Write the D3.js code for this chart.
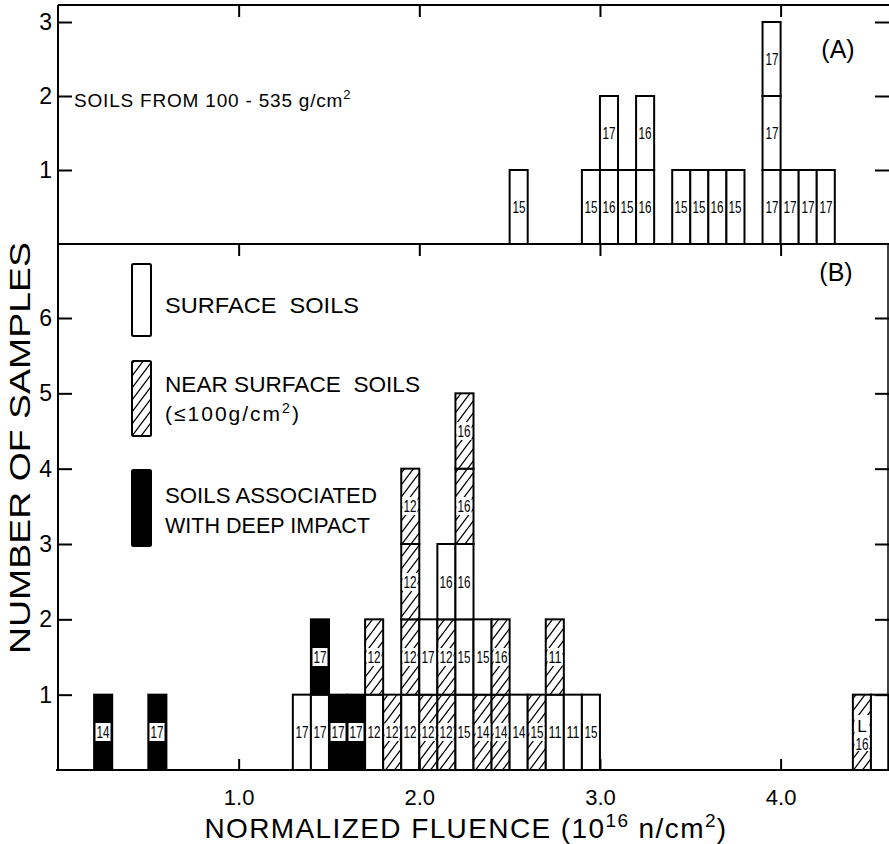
<!DOCTYPE html>
<html><head><meta charset="utf-8">
<script src="https://cdn.jsdelivr.net/npm/d3@7"></script>
<style>
html,body{margin:0;padding:0;background:#fff;}
svg{display:block;font-family:"Liberation Sans",Arial,sans-serif;}
text{fill:#000;}
</style></head><body>
<svg id="chart" width="889" height="844"></svg>
<script>
// Histogram bins: lower edge of each 0.1-wide fluence bin (10^16 n/cm^2)
// Panel A: soils from 100-535 g/cm^2 (all drawn as open bars)
const binsA   = [2.5, 2.9, 3.0, 3.1, 3.2, 3.4, 3.5, 3.6, 3.7, 3.9, 4.0, 4.1, 4.2];
// mission number of each sample in the stack, bottom to top
const labelsA = [["15"], ["15"], ["16","17"], ["15"], ["16","16"], ["15"], ["15"], ["16"], ["15"], ["17","17","17"], ["17"], ["17"], ["17"]];

// Panel B: S = surface, N = near surface, D = deep impact
const binsB   = [0.2, 0.5, 1.3, 1.4, 1.5, 1.6, 1.7, 1.8, 1.9, 2.0, 2.1, 2.2, 2.3, 2.4, 2.5, 2.6, 2.7, 2.8, 2.9, 4.4, 4.5];
const typesB  = [["D"],["D"],["S"],["S","D"],["D"],["D"],["S","N"],["N"],["S","N","N","N"],["N","S"],["N","N","S"],
                 ["S","S","S","N","N"],["N","S"],["N","N"],["S"],["N"],["S","N"],["S"],["S"],["N"],["S"]];
const labelsB = [["14"],["17"],["17"],["17","17"],["17"],["17"],["12","12"],["12"],["12","12","12","12"],["12","17"],["12","12","16"],
                 ["15","15","16","16","16"],["14","15"],["14","16"],["14"],["15"],["11","11"],["11"],["15"],["L|16"],[""]];

const yTicksA = [1, 2, 3];
const yTicksB = [1, 2, 3, 4, 5, 6];
const xTicks  = [1, 2, 3, 4];

const legendTypes = ["S", "N", "D"];
const legendLines = [["SURFACE  SOILS"], ["NEAR SURFACE  SOILS", "(≤100g/cm²)"], ["SOILS ASSOCIATED", "WITH DEEP IMPACT"]];

const svg = d3.select("#chart");
const defs = svg.append("defs");

// diagonal hatching for near-surface soils
const pat = defs.append("pattern").attr("id", "hatch")
  .attr("patternUnits", "userSpaceOnUse").attr("width", 9).attr("height", 12);
pat.append("rect").attr("width", 9).attr("height", 12).attr("fill", "#fff");
pat.append("path").attr("d", "M-1,13.33 L10,-1.33 M-10,13.33 L1,-1.33 M8,13.33 L19,-1.33")
  .attr("stroke", "#000").attr("stroke-width", 1.3).attr("fill", "none");

const fillOf = t => t === "D" ? "#000" : (t === "N" ? "url(#hatch)" : "#fff");

const x  = d3.scaleLinear().domain([0, 4.6]).range([58, 889]);
const yA = d3.scaleLinear().domain([0, 3]).range([244, 22]);
const yB = d3.scaleLinear().domain([0, 6]).range([770, 318]);
const binW = 0.1;

function drawStacks(cls, bins, types, labels, y) {
  const segs = [];
  bins.forEach((b, i) => labels[i].forEach((lab, k) => segs.push({ b, k, lab, t: types ? types[i][k] : "S" })));
  const g = svg.append("g").attr("class", cls);
  g.selectAll("rect.seg").data(segs).join("rect").attr("class", "seg")
    .attr("x", d => x(d.b)).attr("width", d => x(d.b + binW) - x(d.b))
    .attr("y", d => y(d.k + 1)).attr("height", d => y(d.k) - y(d.k + 1))
    .attr("fill", d => fillOf(d.t)).attr("stroke", "#000").attr("stroke-width", 2);
  const lg = g.selectAll("g.lab").data(segs.filter(d => d.lab)).join("g").attr("class", "lab")
    .attr("transform", d => `translate(${Math.round(x(d.b + binW / 2))},${Math.round(y(d.k + 0.5))})`);
  lg.filter(d => d.t !== "S").append("rect")
    .attr("x", -7.5).attr("y", d => d.lab.includes("|") ? -17 : -9)
    .attr("width", 15).attr("height", d => d.lab.includes("|") ? 36 : 18).attr("fill", "#fff");
  lg.each(function (d) {
    const parts = d.lab.split("|");
    parts.forEach((p, j) => {
      d3.select(this).append("text")
        .attr("y", parts.length > 1 ? (j === 0 ? -6 : 12) : 0)
        .attr("dy", "0.36em").attr("text-anchor", "middle")
        .attr("font-size", 17).attr("textLength", p.length > 1 ? 13 : null)
        .attr("lengthAdjust", "spacingAndGlyphs").text(p);
    });
  });
}

drawStacks("panelA", binsA, null, labelsA, yA);
drawStacks("panelB", binsB, typesB, labelsB, yB);

// frame lines
const frame = svg.append("g").attr("stroke", "#000").attr("stroke-width", 2).attr("fill", "none");
frame.append("line").attr("x1", 58).attr("x2", 58).attr("y1", 5).attr("y2", 770);
frame.append("line").attr("x1", 58).attr("x2", 889).attr("y1", 5).attr("y2", 5);
frame.append("line").attr("x1", 58).attr("x2", 889).attr("y1", 244).attr("y2", 244);
frame.append("line").attr("x1", 56).attr("x2", 889).attr("y1", 770).attr("y2", 770);
frame.append("line").attr("x1", 888).attr("x2", 888).attr("y1", 244).attr("y2", 770).attr("stroke-width", 1.5);

function styleAxis(g, fs) {
  g.select(".domain").remove();
  g.selectAll("line").attr("stroke", "#000").attr("stroke-width", 2);
  g.selectAll("text").attr("font-size", fs).attr("fill", "#000").attr("font-family", "Liberation Sans, Arial, sans-serif");
}

// left axes (ticks point inward)
svg.append("g").attr("transform", "translate(58,0)")
  .call(d3.axisLeft(yA).tickValues(yTicksA).tickSize(-14).tickPadding(6).tickFormat(d3.format("d")))
  .call(g => styleAxis(g, 23));
svg.append("g").attr("transform", "translate(58,0)")
  .call(d3.axisLeft(yB).tickValues(yTicksB).tickSize(-14).tickPadding(6).tickFormat(d3.format("d")))
  .call(g => styleAxis(g, 23));
// right-hand inward ticks
svg.append("g").attr("transform", "translate(889,0)")
  .call(d3.axisRight(yA).tickValues(yTicksA).tickSize(-14).tickFormat(""))
  .call(g => styleAxis(g, 0));
svg.append("g").attr("transform", "translate(889,0)")
  .call(d3.axisRight(yB).tickValues(yTicksB).tickSize(-14).tickFormat(""))
  .call(g => styleAxis(g, 0));

// bottom axis with labels, ticks upward
svg.append("g").attr("transform", "translate(0,770)")
  .call(d3.axisBottom(x).tickValues(xTicks).tickSize(-11).tickPadding(19).tickFormat(d3.format(".1f")))
  .call(g => styleAxis(g, 22));
// ticks hanging from the panel divider and the top edge
[5, 244].forEach(yy => {
  svg.append("g").attr("transform", `translate(0,${yy})`)
    .call(d3.axisBottom(x).tickValues(xTicks).tickSize(12).tickFormat(""))
    .call(g => styleAxis(g, 0));
});

// axis titles
svg.append("text").attr("transform", "translate(30,448) rotate(-90)")
  .attr("text-anchor", "middle").attr("font-size", 29)
  .attr("textLength", 412).attr("lengthAdjust", "spacingAndGlyphs")
  .text("NUMBER OF SAMPLES");

const xt = svg.append("text").attr("x", 466).attr("y", 838).attr("text-anchor", "middle")
  .attr("font-size", 28).attr("letter-spacing", 1.4);
xt.append("tspan").text("NORMALIZED FLUENCE (10");
xt.append("tspan").attr("dy", -11).attr("font-size", 19).text("16");
xt.append("tspan").attr("dy", 11).text(" n/cm");
xt.append("tspan").attr("dy", -11).attr("font-size", 19).text("2");
xt.append("tspan").attr("dy", 11).text(")");

// panel annotations
const ta = svg.append("text").attr("x", 74).attr("y", 107).attr("font-size", 19).attr("letter-spacing", 0.8);
ta.append("tspan").text("SOILS FROM 100 - 535 g/cm");
ta.append("tspan").attr("dy", -8).attr("font-size", 13).text("2");
svg.append("text").attr("x", 838).attr("y", 58).attr("text-anchor", "middle").attr("font-size", 25).text("(A)");
svg.append("text").attr("x", 836).attr("y", 281).attr("text-anchor", "middle").attr("font-size", 25).text("(B)");

// legend
const legY = [[264, 336], [361, 436], [470, 546]];
const legBase = [[313], [392, 421], [503, 533]];
const legLen = [[194], [255, 0], [212, 205]];
const legend = svg.append("g").attr("class", "legend");
legend.selectAll("rect").data(legendTypes).join("rect")
  .attr("x", 132).attr("width", 19)
  .attr("y", (d, i) => legY[i][0]).attr("height", (d, i) => legY[i][1] - legY[i][0])
  .attr("rx", 1.5).attr("fill", d => fillOf(d)).attr("stroke", "#000").attr("stroke-width", 2);
legendLines.forEach((lines, i) => {
  lines.forEach((ln, j) => {
    const t = legend.append("text").attr("x", 165).attr("y", legBase[i][j]).attr("font-size", 22)
      .style("white-space", "pre");
    if (ln.includes("²")) {
      t.attr("font-size", 21).attr("letter-spacing", 2);
      t.append("tspan").text("(≤100g/cm");
      t.append("tspan").attr("dy", -8).attr("font-size", 14).text("2");
      t.append("tspan").attr("dy", 8).text(")");
    } else {
      t.attr("textLength", legLen[i][j]).attr("lengthAdjust", "spacingAndGlyphs").text(ln);
    }
  });
});
</script>
</body></html>
